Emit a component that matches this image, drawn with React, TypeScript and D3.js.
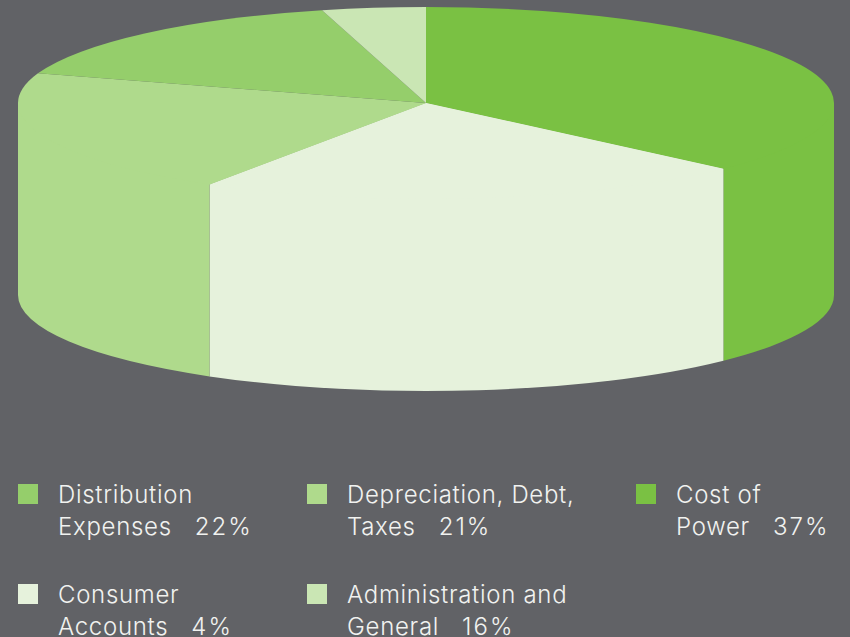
import React from 'react';
import * as d3 from 'd3';

// slices clockwise from 12 o'clock, as they appear in the pie
const sliceValues = [37, 21.9, 21.1, 15.9, 4.1];
const sliceColors = ['#7ac143', '#e6f2dc', '#afda8c', '#95ce6b', '#cae6b4'];

// legend reads left to right, top to bottom
const legendFirstLines = ['Distribution', 'Depreciation, Debt,', 'Cost of', 'Consumer', 'Administration and'];
const legendSecondLines = ['Expenses', 'Taxes', 'Power', 'Accounts', 'General'];
const legendPercents = ['22%', '21%', '37%', '4%', '16%'];
const legendColors = ['#95ce6b', '#afda8c', '#7ac143', '#e6f2dc', '#cae6b4'];

const WIDTH = 850;
const HEIGHT = 637;
const BACKGROUND = '#616266';
const TEXT_COLOR = '#f1f2f0';
const FONT = 'Inter, Roboto, "Liberation Sans", sans-serif';

const CX = 426;
const CY = 103;
const RX = 408;
const RY = 96;
const DEPTH = 192;

const COLUMN_X = [18, 307, 636];
const ROW_Y = [503, 603];

const pie = d3.pie<number>().sort(null).startAngle(0).endAngle(2 * Math.PI);
const arc = d3.arc<d3.PieArcDatum<number>>().innerRadius(0).outerRadius(RX);

// Wall of a slice joined to its sector through the centre, so no seam shows
// where the top face runs into the side. Drawn in the un-squashed space.
function wallPath(start: number, end: number) {
  const a0 = Math.max(start, Math.PI / 2) - Math.PI / 2;
  const a1 = Math.min(end, (3 * Math.PI) / 2) - Math.PI / 2;
  if (a1 <= a0) return null;
  const drop = (DEPTH * RX) / RY;
  const p = d3.path();
  p.moveTo(0, 0);
  p.lineTo(RX * Math.cos(a0), RX * Math.sin(a0));
  p.lineTo(RX * Math.cos(a0), RX * Math.sin(a0) + drop);
  p.arc(0, drop, RX, a0, a1);
  p.lineTo(RX * Math.cos(a1), RX * Math.sin(a1));
  p.closePath();
  return p.toString();
}

export default function App() {
  const slices = pie(sliceValues);

  return (
    <div style={{ position: 'absolute', left: 0, top: 0, width: WIDTH, height: HEIGHT, overflow: 'hidden' }}>
      <svg width={WIDTH} height={HEIGHT} style={{ display: 'block' }}>
        <rect width={WIDTH} height={HEIGHT} fill={BACKGROUND} />

        <g transform={`translate(${CX},${CY}) scale(1,${RY / RX})`}>
          {slices.map((d, i) => {
            const wall = wallPath(d.startAngle, d.endAngle);
            return wall ? <path key={i} d={wall} fill={sliceColors[i]} /> : null;
          })}
          {slices.map((d, i) => (
            <path key={i} d={arc(d) || ''} fill={sliceColors[i]} />
          ))}
        </g>

        <g fontFamily={FONT} fontWeight={300} fontSize={24} letterSpacing={0.7} fill={TEXT_COLOR}>
          {legendFirstLines.map((line, i) => {
            const x = COLUMN_X[i % 3];
            const y = ROW_Y[Math.floor(i / 3)];
            return (
              <g key={i}>
                <rect x={x} y={y - 19} width={20} height={20} fill={legendColors[i]} />
                <text x={x + 40} y={y}>{line}</text>
                <text x={x + 40} y={y + 32}>
                  {legendSecondLines[i]}
                  <tspan dx={23} letterSpacing={2}>{legendPercents[i]}</tspan>
                </text>
              </g>
            );
          })}
        </g>
      </svg>
    </div>
  );
}
